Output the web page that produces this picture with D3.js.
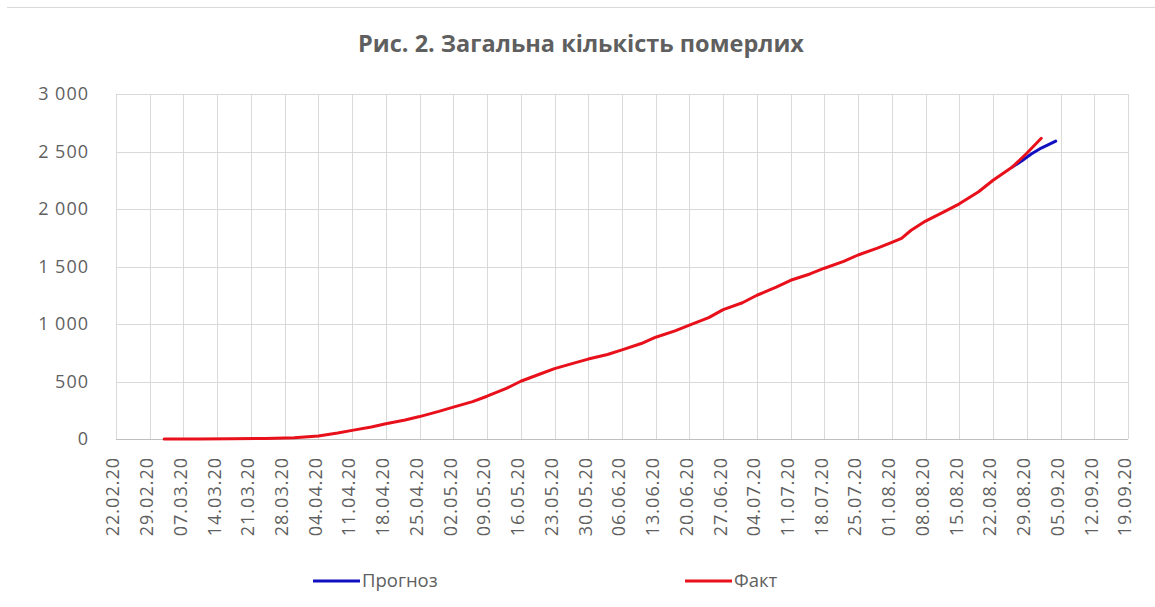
<!DOCTYPE html>
<html>
<head>
<meta charset="utf-8">
<script src="https://cdn.jsdelivr.net/npm/d3@7"></script>
<style>
  body { margin: 0; background: #fff; }
  svg text { font-family: "Open Sans", "Noto Sans", sans-serif; fill: #5f5f5f; }
</style>
</head>
<body>
<div id="container"></div>
<script>
const factDates = ["03.03.20", "10.03.20", "17.03.20", "24.03.20", "30.03.20", "04.04.20", "08.04.20",
    "11.04.20", "15.04.20", "18.04.20", "22.04.20", "25.04.20", "29.04.20", "02.05.20", "06.05.20",
    "09.05.20", "13.05.20", "16.05.20", "20.05.20", "23.05.20", "27.05.20", "30.05.20", "03.06.20",
    "06.06.20", "10.06.20", "13.06.20", "17.06.20", "20.06.20", "24.06.20", "27.06.20", "01.07.20",
    "04.07.20", "08.07.20", "11.07.20", "15.07.20", "18.07.20", "22.07.20", "25.07.20", "29.07.20",
    "01.08.20", "03.08.20", "05.08.20", "08.08.20", "12.08.20", "15.08.20", "19.08.20", "22.08.20",
    "26.08.20", "29.08.20", "01.09.20"];
const factValues = [0, 0, 2, 5, 10, 27, 52,
    75, 105, 133, 165, 195, 240, 277, 325,
    372, 440, 502, 565, 612, 660, 695, 735,
    775, 830, 885, 940, 990, 1055, 1125, 1185,
    1250, 1320, 1380, 1435, 1485, 1545, 1600, 1660,
    1710, 1745, 1815, 1895, 1980, 2045, 2150, 2250,
    2365, 2485, 2615];

const forecastDates = ["26.08.20", "28.08.20", "30.08.20", "01.09.20", "04.09.20"];
const forecastValues = [2365, 2420, 2480, 2530, 2590];

const tickLabels = ["22.02.20", "29.02.20", "07.03.20", "14.03.20", "21.03.20", "28.03.20", "04.04.20",
    "11.04.20", "18.04.20", "25.04.20", "02.05.20", "09.05.20", "16.05.20", "23.05.20", "30.05.20",
    "06.06.20", "13.06.20", "20.06.20", "27.06.20", "04.07.20", "11.07.20", "18.07.20", "25.07.20",
    "01.08.20", "08.08.20", "15.08.20", "22.08.20", "29.08.20", "05.09.20", "12.09.20", "19.09.20"];
const yTicks = [0, 500, 1000, 1500, 2000, 2500, 3000];

const seriesNames = ["Прогноз", "Факт"];
const seriesColors = ["#1010c0", "#e8101a"];

const W = 1155, H = 607;
const margin = { left: 116, right: W - 1128, top: 94, bottom: H - 439 };

const parse = d3.timeParse("%d.%m.%y");
const tickDates = tickLabels.map(parse);

const x = d3.scaleTime()
    .domain([tickDates[0], tickDates[tickDates.length - 1]])
    .range([margin.left, W - margin.right]);

const y = d3.scaleLinear()
    .domain([0, 3000])
    .range([H - margin.bottom, margin.top]);

const fmt = d3.formatLocale({ thousands: " ", grouping: [3], decimal: ",", currency: ["", ""] }).format(",d");

const svg = d3.select("#container")
    .append("svg")
    .attr("width", W)
    .attr("height", H);

// thin frame line at the top of the chart area
svg.append("line")
    .attr("x1", 7).attr("x2", W)
    .attr("y1", 7.5).attr("y2", 7.5)
    .attr("stroke", "#d9d9d9");

// title
svg.append("text")
    .attr("x", 581)
    .attr("y", 52)
    .attr("text-anchor", "middle")
    .style("font-size", "23.5px")
    .style("font-weight", "bold")
    .text("Рис. 2. Загальна кількість померлих");

// horizontal grid
svg.append("g")
    .selectAll("line")
    .data(yTicks)
    .join("line")
    .attr("x1", margin.left).attr("x2", W - margin.right)
    .attr("y1", d => Math.round(y(d)) + 0.5).attr("y2", d => Math.round(y(d)) + 0.5)
    .attr("stroke", "#d9d9d9");

// vertical grid
svg.append("g")
    .selectAll("line")
    .data(tickDates)
    .join("line")
    .attr("x1", d => Math.round(x(d)) + 0.5).attr("x2", d => Math.round(x(d)) + 0.5)
    .attr("y1", margin.top).attr("y2", H - margin.bottom)
    .attr("stroke", "#d9d9d9");

// x axis baseline
svg.append("line")
    .attr("x1", margin.left).attr("x2", W - margin.right)
    .attr("y1", Math.round(y(0)) + 0.5).attr("y2", Math.round(y(0)) + 0.5)
    .attr("stroke", "#bfbfbf");

// y labels
svg.append("g")
    .selectAll("text")
    .data(yTicks)
    .join("text")
    .attr("x", 89)
    .attr("y", d => y(d))
    .attr("dy", "0.35em")
    .attr("text-anchor", "end")
    .style("font-size", "18px")
    .style("letter-spacing", "1px")
    .text(d => fmt(d));

// x labels, rotated
svg.append("g")
    .selectAll("text")
    .data(tickDates)
    .join("text")
    .attr("transform", d => `translate(${x(d) - 3}, 457) rotate(-90)`)
    .attr("dy", "0.35em")
    .attr("text-anchor", "end")
    .style("font-size", "18px")
    .style("letter-spacing", "1px")
    .text((d, i) => tickLabels[i]);

const line = d3.line()
    .x(d => x(d.date))
    .y(d => y(d.value));

const forecast = forecastDates.map((d, i) => ({ date: parse(d), value: forecastValues[i] }));
const fact = factDates.map((d, i) => ({ date: parse(d), value: factValues[i] }));

svg.append("path")
    .datum(forecast)
    .attr("fill", "none")
    .attr("stroke", seriesColors[0])
    .attr("stroke-width", 3)
    .attr("stroke-linejoin", "round")
    .attr("stroke-linecap", "round")
    .attr("d", line);

svg.append("path")
    .datum(fact)
    .attr("fill", "none")
    .attr("stroke", seriesColors[1])
    .attr("stroke-width", 3)
    .attr("stroke-linejoin", "round")
    .attr("stroke-linecap", "round")
    .attr("d", line);

// legend
const legendX = [313, 685];
const legend = svg.append("g")
    .selectAll("g")
    .data(seriesNames)
    .join("g")
    .attr("transform", (d, i) => `translate(${legendX[i]}, 581)`);

legend.append("line")
    .attr("x1", 0).attr("x2", 47)
    .attr("stroke", (d, i) => seriesColors[i])
    .attr("stroke-width", 3);

legend.append("text")
    .attr("x", 49)
    .attr("y", 6)
    .style("font-size", "18.5px")
    .text(d => d);
</script>
</body>
</html>
